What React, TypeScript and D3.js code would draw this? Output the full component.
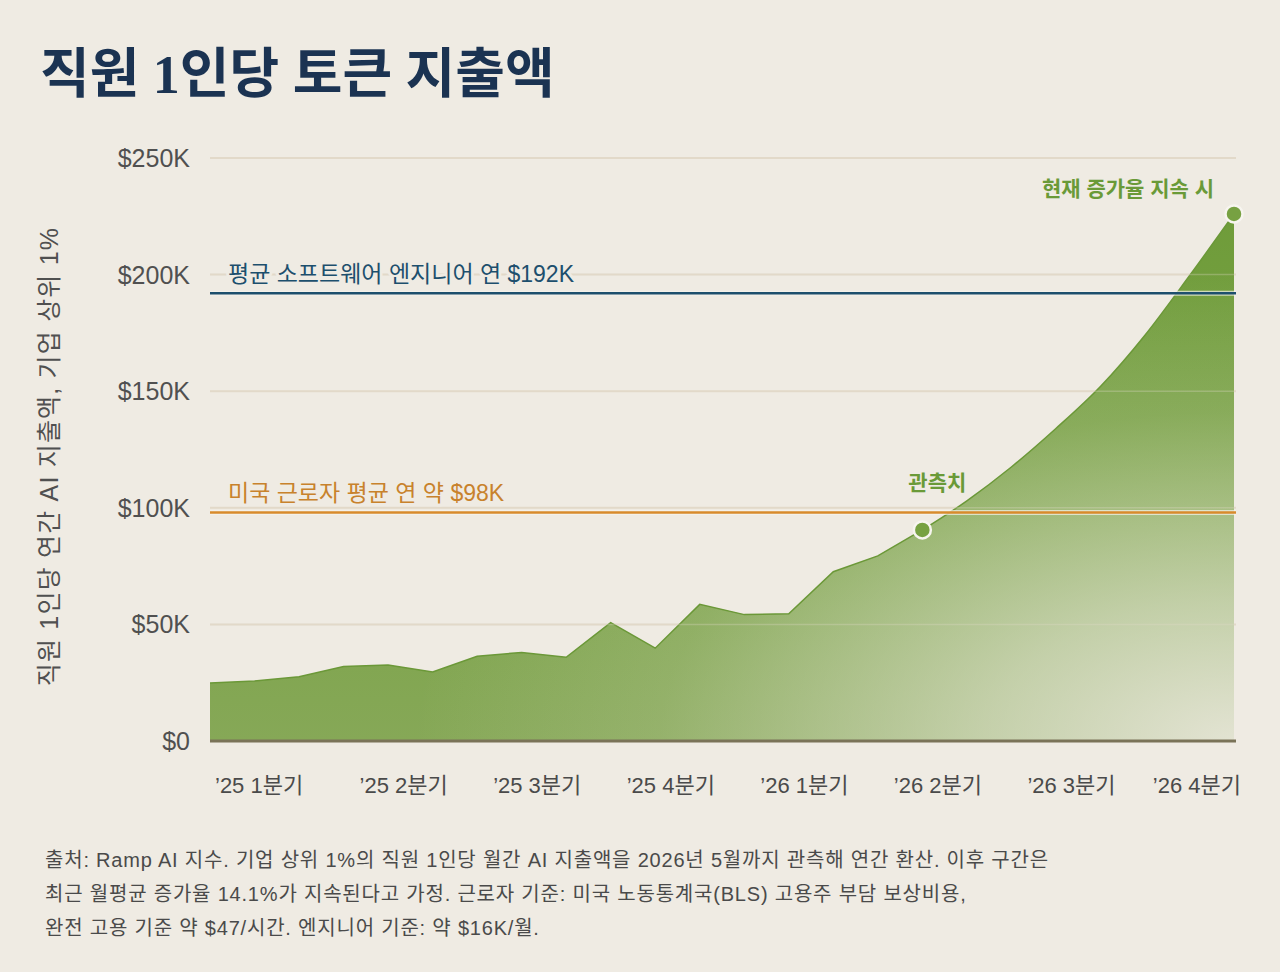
import { useEffect, useRef } from "react"
import * as d3 from "d3"

// Monthly annualized AI spend per employee, top 1% of companies ($K), Jan 2025 – May 2026
const observedValues = [24.9, 25.7, 27.6, 31.9, 32.6, 29.6, 36.3, 38.0, 35.9, 50.8, 39.8, 58.6, 54.2, 54.6, 72.6, 79.4, 90.5]
// Projection Jun 2026 – Dec 2026 if the current growth rate holds ($K)
const projectedValues = [103, 117.5, 134, 152, 174, 199.5, 226]

const quarterLabels = ["’25 1분기", "’25 2분기", "’25 3분기", "’25 4분기", "’26 1분기", "’26 2분기", "’26 3분기", "’26 4분기"]
const quarterMidMonth = [1, 4, 7, 10, 13, 16, 19, 22]
const yTicks = [0, 50, 100, 150, 200, 250]

const engineerPay = 192
const workerPay = 98

const footnoteLines = [
  "출처: Ramp AI 지수. 기업 상위 1%의 직원 1인당 월간 AI 지출액을 2026년 5월까지 관측해 연간 환산. 이후 구간은",
  "최근 월평균 증가율 14.1%가 지속된다고 가정. 근로자 기준: 미국 노동통계국(BLS) 고용주 부담 보상비용,",
  "완전 고용 기준 약 $47/시간. 엔지니어 기준: 약 $16K/월.",
]

const BG = "#efebe3"
const SANS = '"Liberation Sans", Arial, "Noto Sans CJK KR", sans-serif'
const TITLE_FONT = '"Liberation Serif", "Noto Sans CJK KR", serif'

type Pt = [number, number]

export default function App() {
  const svgRef = useRef<SVGSVGElement>(null)

  useEffect(() => {
    document.body.style.margin = "0"
    document.body.style.background = BG
    if (!svgRef.current) return

    const width = 1280
    const height = 972
    const left = 210
    const right = 1234
    const top = 158
    const bottom = 741

    const svg = d3.select(svgRef.current)
    svg.selectAll("*").remove()
    svg.attr("width", width).attr("height", height)

    const all = [...observedValues, ...projectedValues]
    const lastObs = observedValues.length - 1

    const x = d3.scaleLinear().domain([0, all.length - 1]).range([left, right])
    const y = d3.scaleLinear().domain([0, 250]).range([bottom, top])

    const obsPts: Pt[] = observedValues.map((v, i) => [i, v])
    const projPts: Pt[] = all.map((v, i) => [i, v] as Pt).slice(lastObs - 1)

    const makeArea = (curve: d3.CurveFactory) =>
      d3
        .area<Pt>()
        .x((d) => x(d[0]))
        .y0(y(0))
        .y1((d) => y(d[1]))
        .curve(curve)
    const makeLine = (curve: d3.CurveFactory) =>
      d3
        .line<Pt>()
        .x((d) => x(d[0]))
        .y((d) => y(d[1]))
        .curve(curve)
    const areaLin = makeArea(d3.curveLinear)
    const areaSmooth = makeArea(d3.curveMonotoneX)
    const lineLin = makeLine(d3.curveLinear)
    const lineSmooth = makeLine(d3.curveMonotoneX)

    const defs = svg.append("defs")

    const fill = defs
      .append("linearGradient")
      .attr("id", "areaFill")
      .attr("gradientUnits", "userSpaceOnUse")
      .attr("x1", 0)
      .attr("x2", 0)
      .attr("y1", y(d3.max(all)!))
      .attr("y2", y(0))
    fill.append("stop").attr("offset", 0).attr("stop-color", "#6f9c3a")
    fill.append("stop").attr("offset", 0.6).attr("stop-color", "#7ba348")
    fill.append("stop").attr("offset", 1).attr("stop-color", "#86a857")

    // light wash toward the bottom-right corner
    const fade = defs
      .append("radialGradient")
      .attr("id", "areaFade")
      .attr("gradientUnits", "userSpaceOnUse")
      .attr("cx", 0)
      .attr("cy", 0)
      .attr("r", 1)
      .attr("gradientTransform", `translate(${right},${bottom}) scale(820,470)`)
    fade.append("stop").attr("offset", 0).attr("stop-color", BG).attr("stop-opacity", 0.88)
    fade.append("stop").attr("offset", 0.3).attr("stop-color", BG).attr("stop-opacity", 0.6)
    fade.append("stop").attr("offset", 0.7).attr("stop-color", BG).attr("stop-opacity", 0.15)
    fade.append("stop").attr("offset", 1).attr("stop-color", BG).attr("stop-opacity", 0)

    // projection part starts a touch left of the last observed month so the joined shapes overlap
    defs
      .append("clipPath")
      .attr("id", "projClip")
      .append("rect")
      .attr("x", x(lastObs) - 1.5)
      .attr("y", 0)
      .attr("width", width)
      .attr("height", height)

    // union of observed (straight) and projected (smooth) shapes
    const areaClip = defs.append("clipPath").attr("id", "areaClip")
    areaClip.append("path").attr("d", areaLin(obsPts))
    areaClip.append("path").attr("d", areaSmooth(projPts)).attr("clip-path", "url(#projClip)")

    svg.append("rect").attr("width", width).attr("height", height).attr("fill", BG)

    // title
    svg
      .append("text")
      .attr("x", 40)
      .attr("y", 93)
      .style("font-family", TITLE_FONT)
      .style("font-size", "54px")
      .style("font-weight", "700")
      .style("fill", "#1b3352")
      .text("직원 1인당 토큰 지출액")

    // gridlines
    svg
      .append("g")
      .selectAll("line")
      .data(yTicks.filter((d) => d > 0))
      .enter()
      .append("line")
      .attr("x1", left)
      .attr("x2", right + 2)
      .attr("y1", (d) => y(d))
      .attr("y2", (d) => y(d))
      .attr("stroke", "#e2d9c9")
      .attr("stroke-width", 2)

    // y tick labels
    svg
      .append("g")
      .selectAll("text")
      .data(yTicks)
      .enter()
      .append("text")
      .attr("x", 190)
      .attr("y", (d) => y(d))
      .attr("dy", "0.36em")
      .attr("text-anchor", "end")
      .style("font-family", SANS)
      .style("font-size", "25px")
      .style("fill", "#505050")
      .text((d) => (d === 0 ? "$0" : `$${d}K`))

    // y axis title
    svg
      .append("text")
      .attr("transform", `translate(58,${(top + bottom) / 2 + 7}) rotate(-90)`)
      .attr("text-anchor", "middle")
      .style("font-family", SANS)
      .style("font-size", "25px")
      .style("letter-spacing", "1.2px")
      .style("fill", "#505050")
      .text("직원 1인당 연간 AI 지출액, 기업 상위 1%")

    // area fill
    const areaG = svg.append("g").attr("clip-path", "url(#areaClip)")
    areaG.append("rect").attr("x", left - 2).attr("y", 0).attr("width", right - left + 4).attr("height", bottom).attr("fill", "url(#areaFill)")
    areaG.append("rect").attr("x", left - 2).attr("y", 0).attr("width", right - left + 4).attr("height", bottom).attr("fill", "url(#areaFade)")

    svg
      .append("path")
      .attr("d", lineLin(obsPts))
      .attr("fill", "none")
      .attr("stroke", "#6b9838")
      .attr("stroke-width", 1.5)
    svg
      .append("path")
      .attr("d", lineSmooth(projPts))
      .attr("fill", "none")
      .attr("stroke", "#6b9838")
      .attr("stroke-width", 1.5)
      .attr("clip-path", "url(#projClip)")

    // faint gridlines showing through the area
    svg
      .append("g")
      .selectAll("line")
      .data(yTicks.filter((d) => d > 0))
      .enter()
      .append("line")
      .attr("x1", left)
      .attr("x2", right)
      .attr("y1", (d) => y(d))
      .attr("y2", (d) => y(d))
      .attr("stroke", "#e2d9c9")
      .attr("stroke-opacity", 0.3)
      .attr("stroke-width", 1.5)

    // baseline
    svg
      .append("line")
      .attr("x1", left)
      .attr("x2", right + 2)
      .attr("y1", y(0))
      .attr("y2", y(0))
      .attr("stroke", "#7a7358")
      .attr("stroke-width", 3)

    // reference lines
    const refs = [
      { value: engineerPay, color: "#1d4f6d", text: "#1d4f6d", label: `평균 소프트웨어 엔지니어 연 $${engineerPay}K` },
      { value: workerPay, color: "#d88b2c", text: "#c8822c", label: `미국 근로자 평균 연 약 $${workerPay}K` },
    ]
    for (const r of refs) {
      svg
        .append("line")
        .attr("x1", left)
        .attr("x2", right + 2)
        .attr("y1", y(r.value))
        .attr("y2", y(r.value))
        .attr("stroke", "#f6f3ec")
        .attr("stroke-opacity", 0.7)
        .attr("stroke-width", 5)
      svg
        .append("line")
        .attr("x1", left)
        .attr("x2", right + 2)
        .attr("y1", y(r.value))
        .attr("y2", y(r.value))
        .attr("stroke", r.color)
        .attr("stroke-width", 2.5)
      svg
        .append("text")
        .attr("x", left + 18)
        .attr("y", y(r.value) - 11)
        .style("font-family", SANS)
        .style("font-size", "23px")
        .style("fill", r.text)
        .style("stroke", BG)
        .style("stroke-width", "6px")
        .style("stroke-linejoin", "round")
        .style("paint-order", "stroke")
        .text(r.label)
    }

    // markers
    const markers = [
      { i: lastObs, v: observedValues[lastObs], label: "관측치", anchor: "middle", dx: 15, dy: -40 },
      { i: all.length - 1, v: all[all.length - 1], label: "현재 증가율 지속 시", anchor: "end", dx: -20, dy: -18 },
    ]
    for (const m of markers) {
      svg
        .append("circle")
        .attr("cx", x(m.i))
        .attr("cy", y(m.v))
        .attr("r", 8.5)
        .attr("fill", "#77a142")
        .attr("stroke", "#f7f5ef")
        .attr("stroke-width", 2.5)
      svg
        .append("text")
        .attr("x", x(m.i) + m.dx)
        .attr("y", y(m.v) + m.dy)
        .attr("text-anchor", m.anchor)
        .style("font-family", SANS)
        .style("font-size", "21px")
        .style("font-weight", "700")
        .style("fill", "#6a9a38")
        .style("stroke", BG)
        .style("stroke-width", "6px")
        .style("stroke-linejoin", "round")
        .style("paint-order", "stroke")
        .text(m.label)
    }

    // x labels: first and last are kept inside the plot edges
    const n = quarterLabels.length
    svg
      .append("g")
      .selectAll("text")
      .data(quarterLabels)
      .enter()
      .append("text")
      .attr("x", (d, i) => (i === 0 ? left + 5 : i === n - 1 ? right + 7 : x(quarterMidMonth[i] + 0.35)))
      .attr("y", 793)
      .attr("text-anchor", (d, i) => (i === 0 ? "start" : i === n - 1 ? "end" : "middle"))
      .style("font-family", SANS)
      .style("font-size", "22px")
      .style("fill", "#4a4a4a")
      .text((d) => d)

    // footnote
    svg
      .append("g")
      .selectAll("text")
      .data(footnoteLines)
      .enter()
      .append("text")
      .attr("x", 45)
      .attr("y", (d, i) => 867 + i * 34)
      .style("font-family", SANS)
      .style("font-size", "20px")
      .style("letter-spacing", "0.8px")
      .style("fill", "#4a4a4a")
      .text((d) => d)
  }, [])

  return <svg ref={svgRef} style={{ display: "block" }}></svg>
}
